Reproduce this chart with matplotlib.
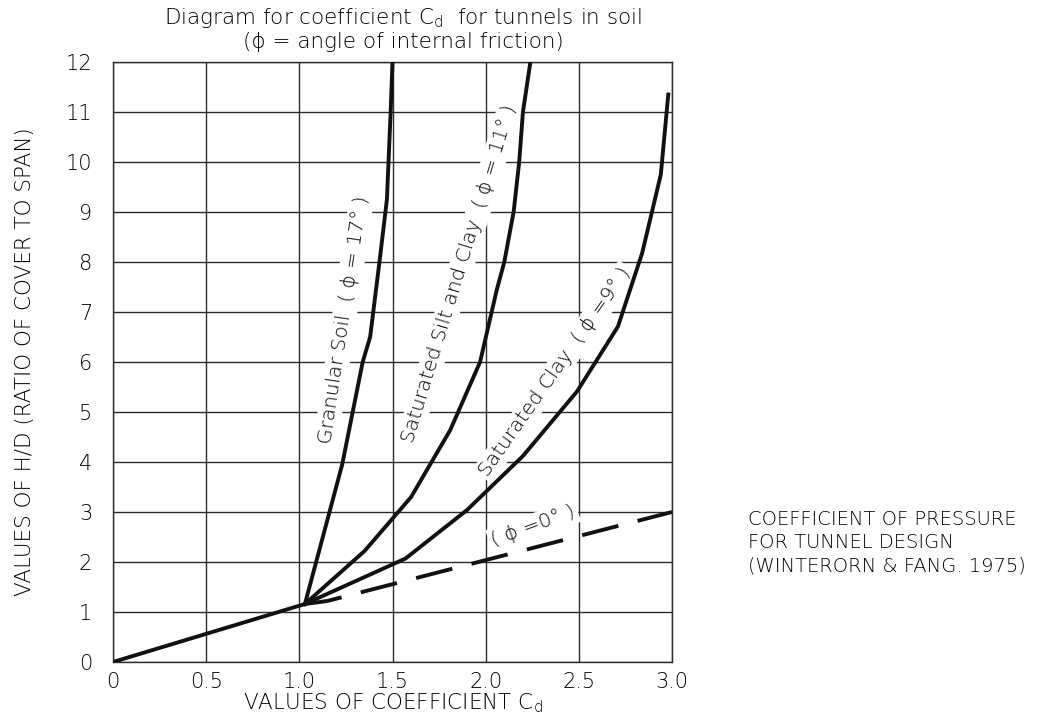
import matplotlib
matplotlib.use('Agg')
import matplotlib.pyplot as plt

plt.rcParams['font.family'] = ['DejaVu Sans']
plt.rcParams['font.weight'] = 'light'
plt.rcParams['axes.labelweight'] = 'light'
plt.rcParams['mathtext.default'] = 'regular'

# ---- data ----
x_ticks = [0, 0.5, 1.0, 1.5, 2.0, 2.5, 3.0]
x_tick_labels = ['0', '0.5', '1.0', '1.5', '2.0', '2.5', '3.0']
y_ticks = list(range(0, 13))
y_tick_labels = [str(v) for v in y_ticks]

common_x = [0.0, 1.03]
common_y = [0.0, 1.16]

granular_x = [1.03, 1.23, 1.34, 1.38, 1.43, 1.47, 1.49, 1.50]
granular_y = [1.16, 3.95, 6.0, 6.5, 8.0, 9.25, 11.0, 12.0]

silt_x = [1.03, 1.35, 1.60, 1.81, 1.97, 2.06, 2.10, 2.15, 2.18, 2.20, 2.24]
silt_y = [1.16, 2.22, 3.30, 4.64, 6.0, 7.45, 8.0, 9.0, 10.0, 11.0, 12.0]

clay_x = [1.03, 1.57, 1.90, 2.20, 2.49, 2.71, 2.84, 2.94, 2.98]
clay_y = [1.16, 2.07, 3.04, 4.12, 5.41, 6.71, 8.18, 9.75, 11.35]

zero_x = [1.03, 1.15, 3.0]
zero_y = [1.16, 1.22, 3.0]

title_text = "Diagram for coefficient C$_d$  for tunnels in soil\n(ϕ = angle of internal friction)"
xlabel_text = "VALUES OF COEFFICIENT C$_d$"
ylabel_text = "VALUES OF H/D (RATIO OF COVER TO SPAN)"
note_text = "COEFFICIENT OF PRESSURE\nFOR TUNNEL DESIGN\n(WINTERORN & FANG. 1975)"

curve_labels = [
    ("Granular Soil  ( ϕ = 17° )", 1.238, 6.84, 81.5),
    ("Saturated Silt and Clay  ( ϕ = 11° )", 1.858, 7.77, 73),
    ("Saturated Clay  ( ϕ =9° )", 2.374, 5.80, 55),
    ("( ϕ =0° )", 2.256, 2.72, 20),
]

# ---- figure ----
W, H = 1041, 721
fig = plt.figure(figsize=(W / 100, H / 100), dpi=100)
ax = fig.add_axes([113 / W, 1 - 662 / H, (672 - 113) / W, (662 - 62) / H])

txt_color = '#000000'
grid_color = '#2a2a2a'

ax.set_xlim(0, 3)
ax.set_ylim(0, 12)
ax.set_xticks(x_ticks)
ax.set_xticklabels(x_tick_labels)
ax.set_yticks(y_ticks)
ax.set_yticklabels(y_tick_labels)
ax.tick_params(length=0, labelsize=15, colors=txt_color)
ax.tick_params(axis='x', pad=7)
ax.tick_params(axis='y', pad=15)
ax.grid(True, color=grid_color, lw=1.0)
ax.set_axisbelow(True)
for s in ax.spines.values():
    s.set_color(grid_color)
    s.set_linewidth(1.0)

lw = 2.8
ax.plot(common_x, common_y, color='#111111', lw=lw, zorder=5, solid_capstyle='round')
ax.plot(granular_x, granular_y, color='#111111', lw=lw, zorder=5, solid_joinstyle='round')
ax.plot(silt_x, silt_y, color='#111111', lw=lw, zorder=5, solid_joinstyle='round')
ax.plot(clay_x, clay_y, color='#111111', lw=lw, zorder=5, solid_joinstyle='round')
ax.plot(zero_x, zero_y, color='#111111', lw=lw, zorder=5, dashes=(9.6, 5.1))

for text, x, y, rot in curve_labels:
    ax.text(x, y, text, rotation=rot, rotation_mode='anchor', ha='center', va='center',
            fontsize=14.5, color=txt_color, zorder=3,
            bbox=dict(facecolor='white', edgecolor='none', pad=2))

ax.set_xlabel(xlabel_text, fontsize=15.5, color=txt_color, labelpad=0)
ax.set_ylabel(ylabel_text, fontsize=15.5, color=txt_color, labelpad=22)

fig.text(403 / W, 1 - 29 / H, title_text, ha='center', va='center', fontsize=15.5,
         color=txt_color, linespacing=1.1)
fig.text(748 / W, 1 - 543 / H, note_text, ha='left', va='center', fontsize=14,
         color=txt_color, linespacing=1.3)

fig.savefig('out.png', dpi=100)
